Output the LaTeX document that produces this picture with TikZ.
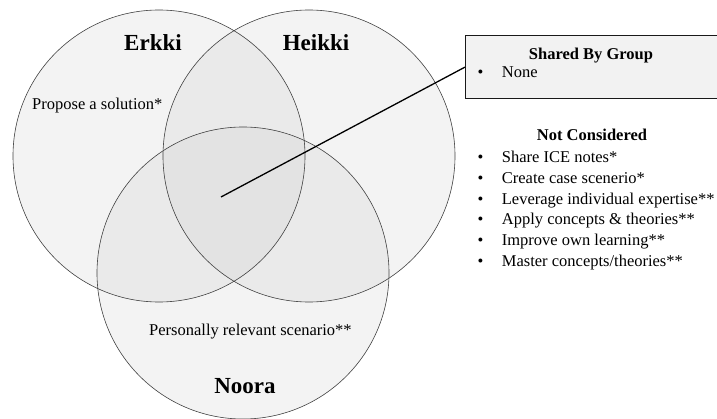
\documentclass[tikz,border=0pt]{standalone}
\usepackage{fontspec}
\setmainfont{Liberation Serif}
\definecolor{oneset}{HTML}{F3F3F3}
\definecolor{twosets}{HTML}{EAEAEA}
\definecolor{threesets}{HTML}{E3E3E3}
\definecolor{boxfill}{HTML}{F2F2F2}
\begin{document}
\begin{tikzpicture}[x=1pt,y=-1pt,
  ring/.style={circle, draw=black!75, line width=0.6pt, minimum size=292pt, inner sep=0pt},
  person/.style={font=\fontsize{23}{27}\selectfont\bfseries, inner sep=0pt, anchor=base},
  label/.style={font=\fontsize{16.5}{20}\selectfont, inner sep=0pt, anchor=base west},
  heading/.style={font=\fontsize{16.5}{20}\selectfont\bfseries, inner sep=0pt, anchor=base},
  dot/.style={font=\fontsize{16.5}{20}\selectfont, inner sep=0pt, anchor=base},
  panel/.style={draw=black!90, line width=1.2pt, fill=boxfill, inner sep=0pt,
                minimum width=300pt, minimum height=63pt, anchor=north west},
  lead/.style={draw=black, line width=1.3pt}
]
\useasboundingbox (0,0) rectangle (717,419);
\clip (0,0) rectangle (717,419);

% circle centres
\coordinate (E) at (159,156);
\coordinate (H) at (309,156);
\coordinate (N) at (243,273);

% shading of the regions: single, pairwise and triple overlap
\fill[oneset] (E) circle[radius=146pt] (H) circle[radius=146pt] (N) circle[radius=146pt];
\begin{scope}
  \clip (E) circle[radius=146pt];
  \fill[twosets] (H) circle[radius=146pt] (N) circle[radius=146pt];
\end{scope}
\begin{scope}
  \clip (H) circle[radius=146pt];
  \fill[twosets] (N) circle[radius=146pt];
\end{scope}
\begin{scope}
  \clip (E) circle[radius=146pt];
  \clip (H) circle[radius=146pt];
  \fill[threesets] (N) circle[radius=146pt];
\end{scope}

% outlines
\node[ring] (erkki) at (E) {};
\node[ring] (heikki) at (H) {};
\node[ring] (noora) at (N) {};

% names and items inside the circles
\node[person] (nErkki) at (153,51) {Erkki};
\node[person] (nHeikki) at (316,51) {Heikki};
\node[person] (nNoora) at (245,393) {Noora};
\node[label] (propose) at (32,110) {Propose a solution*};
\node[label] (personal) at (149,336) {Personally relevant scenario**};

% shared-by-group panel and its pointer
\node[panel] (shared) at (465,35) {};
\coordinate (hub) at (221,197);
\draw[lead] (hub) -- (shared.west);
\node[heading] (sharedTitle) at (591,60) {Shared By Group};
\node[dot] (b0) at (480.5,78) {•};
\node[label] (none) at (501.7,78) {None};

% items not considered
\node[heading] (ncTitle) at (592,141) {Not Considered};
\foreach \t [count=\i from 0] in {Share ICE notes*, Create case scenerio*,
    Leverage individual expertise**, Apply concepts \& theories**,
    Improve own learning**, Master concepts/theories**} {
  \node[dot] (nb\i) at (480.5,{162.5+20.8*\i}) {•};
  \node[label] (nc\i) at (501.7,{162.5+20.8*\i}) {\t};
}
\end{tikzpicture}
\end{document}
